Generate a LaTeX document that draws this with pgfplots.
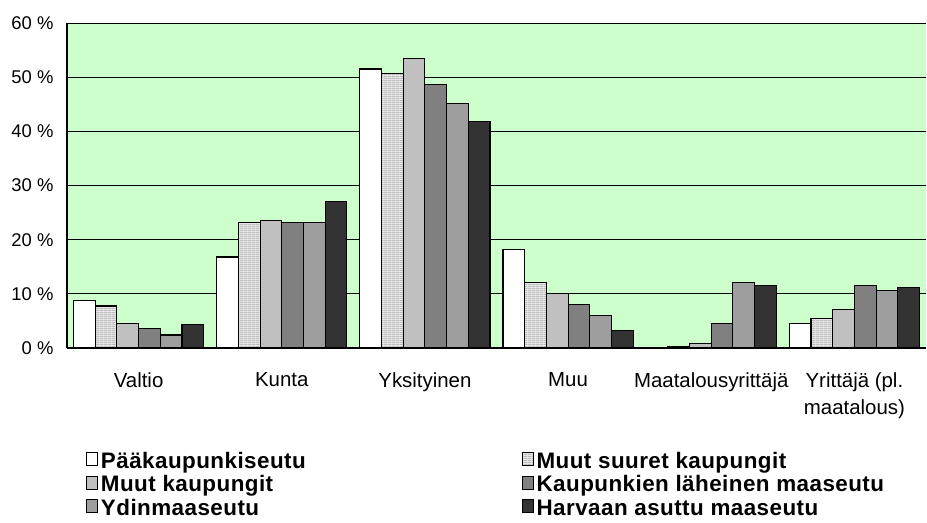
\documentclass[border=0pt]{standalone}
\usepackage{fontspec}
\setmainfont{Liberation Sans}
\newfontfamily\legfont[LetterSpace=2]{Liberation Sans}
\usepackage{pgfplots}
\pgfplotsset{compat=1.18}
\usetikzlibrary{patterns}
\pgfdeclarepatternformonly{finehlines}{\pgfpointorigin}{\pgfpoint{4bp}{2bp}}{\pgfpoint{4bp}{2bp}}{\pgfsetlinewidth{0.9bp}\pgfpathmoveto{\pgfpoint{-0.1bp}{0.5bp}}\pgfpathlineto{\pgfpoint{4.1bp}{0.5bp}}\pgfusepath{stroke}}
\definecolor{bg}{HTML}{CCFFCC}
\definecolor{cA}{HTML}{FFFFFF}
\definecolor{cB}{HTML}{E6E6E6}
\definecolor{cBl}{HTML}{A8A8A8}
\definecolor{cC}{HTML}{C0C0C0}
\definecolor{cD}{HTML}{808080}
\definecolor{cE}{HTML}{9E9E9E}
\definecolor{cF}{HTML}{333333}
\begin{document}
\begin{tikzpicture}
\path[use as bounding box] (0,0) rectangle (927bp,523bp);
\begin{axis}[
  at={(67bp,175bp)}, anchor=south west,
  width=859bp, height=325bp, scale only axis,
  xmin=-0.5, xmax=5.5, ymin=0, ymax=60,
  axis background/.style={fill=bg},
  axis x line*=bottom, axis y line*=left,
  axis line style={black, line width=1.6bp},
  ybar, bar width=0.1515,
  every axis plot/.append style={draw=black, line width=1.1bp,
    legend image code/.code={\draw[##1, line width=0.8bp] (0bp,-2.5bp) rectangle (11bp,10.5bp);}},
  ytick={0,10,20,30,40,50,60},
  yticklabels={0 \%,10 \%,20 \%,30 \%,40 \%,50 \%,60 \%},
  yticklabel style={font=\fontsize{18.5}{20}\selectfont, xshift=-10bp},
  ymajorgrids, grid style={black, line width=0.8bp},
  major tick length=5bp, ytick style={black, line width=0.8bp},
  xtick={0,1,2,3,4,5},
  xticklabels={Valtio,Kunta,Yksityinen,Muu,Maatalousyrittäjä,{Yrittäjä (pl.\\maatalous)}},
  xticklabel style={font=\fontsize{20.5}{27}\selectfont, align=center, yshift=-16bp},
  xtick style={draw=none},
  legend columns=2,
  legend cell align=left,
  legend style={at={(0.0221,-0.318)}, anchor=north west, draw=none, fill=none,
    inner sep=0pt, row sep=0pt,
    font=\legfont\bfseries\fontsize{22.5}{23}\selectfont,
    nodes={inner sep=0pt, text height=16.5bp, text depth=7bp},
    /tikz/column 1/.style={column sep=3bp},
    /tikz/column 2/.style={column sep=216bp},
    /tikz/column 3/.style={column sep=3bp}},
]
\addplot[fill=cA, bar shift=-0.37875] coordinates {(0,8.7) (1,16.8) (2,51.5) (3,18.2) (4,0) (5,4.55)};
\addlegendentry{Pääkaupunkiseutu}
\addplot[fill=cB, bar shift=-0.22725, postaction={pattern=finehlines, pattern color=cBl}] coordinates {(0,7.75) (1,23.1) (2,50.6) (3,12.1) (4,0.25) (5,5.5)};
\addlegendentry{Muut suuret kaupungit}
\addplot[fill=cC, bar shift=-0.07575] coordinates {(0,4.6) (1,23.5) (2,53.4) (3,10.0) (4,0.8) (5,7.1)};
\addlegendentry{Muut kaupungit}
\addplot[fill=cD, bar shift=0.07575] coordinates {(0,3.6) (1,23.1) (2,48.6) (3,8.1) (4,4.6) (5,11.5)};
\addlegendentry{Kaupunkien läheinen maaseutu}
\addplot[fill=cE, bar shift=0.22725] coordinates {(0,2.4) (1,23.1) (2,45.1) (3,6.0) (4,12.1) (5,10.6)};
\addlegendentry{Ydinmaaseutu}
\addplot[fill=cF, bar shift=0.37875] coordinates {(0,4.3) (1,27.0) (2,41.8) (3,3.3) (4,11.6) (5,11.1)};
\addlegendentry{Harvaan asuttu maaseutu}
\end{axis}
\end{tikzpicture}
\end{document}
